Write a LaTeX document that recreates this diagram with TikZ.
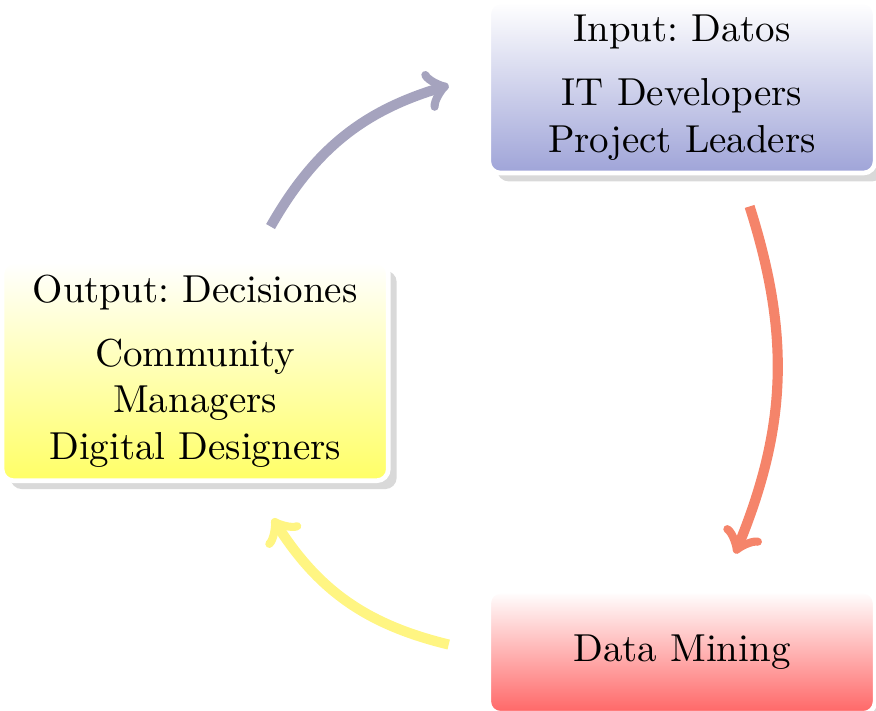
\documentclass[tikz,border=0pt]{standalone}
\usepackage{xcolor}
\definecolor{ArrowA}{HTML}{A5A3BE}
\definecolor{ArrowB}{HTML}{F5846A}
\definecolor{ArrowC}{HTML}{FFF582}
\definecolor{InputBot}{HTML}{9FA4D8}
\usepackage{tikz}
\usetikzlibrary{shadows, positioning}

\begin{document}
\frenchspacing
\begin{tikzpicture}[
  box/.style={
    rectangle, rounded corners=3pt,
    text width=3.25cm, align=center,
    draw=white, very thick, top color=white,
    drop shadow={opacity=0.3}
  },
  inbox/.style={box, bottom color=InputBot},
  outbox/.style={box, bottom color=yellow!60},
  minebox/.style={box, bottom color=red!60, minimum height=1.1cm},
  arr/.style={-to, line width=2.6pt},
]
\useasboundingbox (0,0) rectangle (7.90,6.41);

\node[inbox] (in) at (6.15,5.62) {Input: Datos\\[1ex] IT Developers\\ Project Leaders};
\node[minebox, below=3.73cm of in] (dm) {Data Mining};
\node[outbox] (out) at (1.76,3.06) {Output: Decisiones\\[1ex] Community Managers\\ Digital Designers};

% arrow ends
\coordinate (a1s) at ([shift={(0.68,0.30)}]out.north);
\coordinate (a1e) at ([shift={(-0.34,0.02)}]in.west);
\coordinate (a2s) at ([shift={(0.61,-0.28)}]in.south);
\coordinate (a2e) at ([shift={(0.48,0.32)}]dm.north);
\coordinate (a3s) at ([shift={(-0.34,0.07)}]dm.west);
\coordinate (a3e) at ([shift={(0.70,-0.32)}]out.south);

\draw[arr, ArrowA] (a1s) to[bend left=22] (a1e);
\draw[arr, ArrowB] (a2s) to[bend left=20] (a2e);
\draw[arr, ArrowC] (a3s) to[bend left=22] (a3e);

\end{tikzpicture}
\end{document}
